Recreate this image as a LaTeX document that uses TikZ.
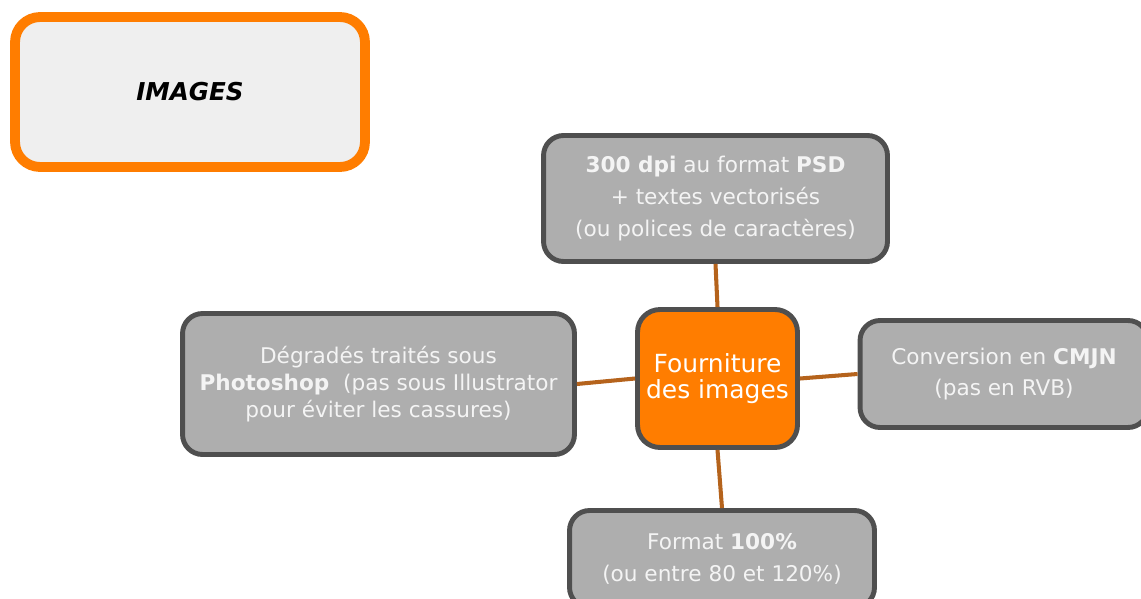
\documentclass[tikz,border=0pt]{standalone}
\usepackage{fontspec}
\setmainfont{DejaVu Sans}
\usetikzlibrary{positioning}

\definecolor{orng}{HTML}{FF7D00}
\definecolor{boxgray}{HTML}{AEAEAE}
\definecolor{edgegray}{HTML}{4F4F4F}
\definecolor{linkbrown}{HTML}{B5631C}
\definecolor{paper}{HTML}{EFEFEF}
\definecolor{txtwhite}{HTML}{F4F4F4}

\begin{document}
\begin{tikzpicture}[x=0.02cm, y=-0.02cm,
    title/.style={draw=orng, line width=5.6pt, rounded corners=0.5cm, fill=paper, minimum width=7cm, minimum height=3cm, font=\fontsize{14}{16}\selectfont\bfseries\itshape, text=black},
    info/.style={draw=edgegray, line width=2.8pt, rounded corners=0.4cm, fill=boxgray, align=center, text=txtwhite, font=\fontsize{12.3}{18}\selectfont, inner sep=0pt},
    hub/.style={draw=edgegray, line width=2.8pt, rounded corners=0.45cm, fill=orng, align=center, text=white, font=\fontsize{14.2}{14.8}\selectfont, minimum width=3.2cm, minimum height=2.76cm, inner sep=0pt},
    link/.style={draw=linkbrown, line width=2.3pt}
]
\useasboundingbox (0,0) rectangle (1141,598);

\node[title] (T) at (190,92) {IMAGES};

\node[hub] (C) at (717.5,378.5) {Fourniture\\des images};
\node[info, minimum width=6.88cm, minimum height=2.52cm] (P) at (715.5,198.5)
    {\textbf{300 dpi} au format \textbf{PSD}\\+ textes vectorisés\\(ou polices de caractères)};
\node[info, minimum width=7.84cm, minimum height=2.82cm, font=\fontsize{12.3}{15.2}\selectfont] (D) at (378.5,384)
    {Dégradés traités sous\\\textbf{Photoshop}\ \ (pas sous Illustrator\\pour éviter les cassures)};
\node[info, minimum width=5.76cm, minimum height=2.14cm] (K) at (1004,374)
    {Conversion en \textbf{CMJN}\\(pas en RVB)};
\node[info, minimum width=6.1cm, minimum height=1.94cm] (F) at (722,559)
    {Format \textbf{100\%}\\(ou entre 80 et 120\%)};

\draw[link] (P.south) -- (C.north);
\draw[link] (D.east) -- (C.west);
\draw[link] (C.east) -- (K.west);
\draw[link] (C.south) -- (F.north);
\end{tikzpicture}
\end{document}
